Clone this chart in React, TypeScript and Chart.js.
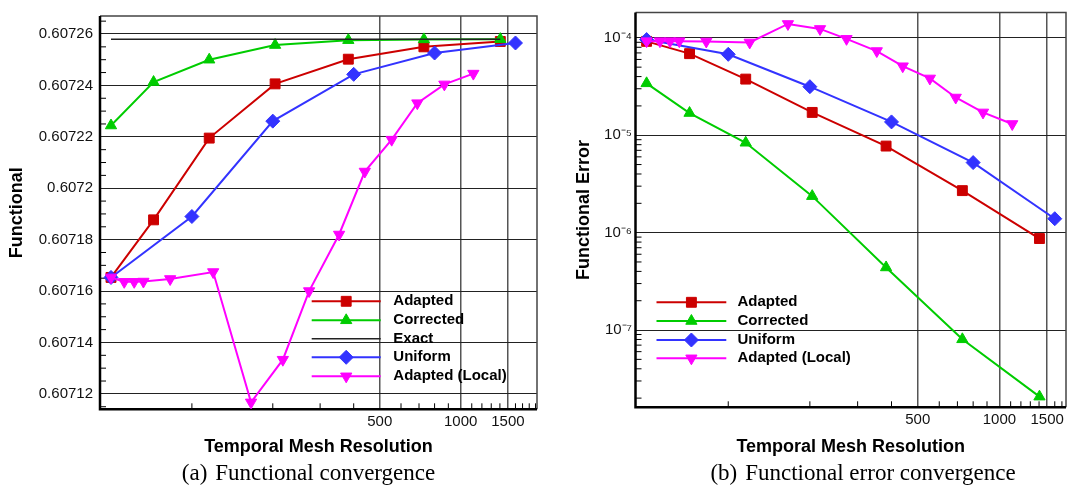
import React, { useEffect, useRef } from 'react';
import { Chart, registerables } from 'chart.js';
import { drawPoint } from 'chart.js/helpers';

Chart.register(...registerables);

// ---------- data ----------
const adaptedN = [50, 72, 116, 204, 382, 730, 1405];
const adaptedF = [0.6071653, 0.6071877, 0.6072195, 0.6072406, 0.6072502, 0.607255, 0.6072571];
const adaptedErr = [9.2e-5, 6.88e-5, 3.77e-5, 1.715e-5, 7.74e-6, 2.7e-6, 8.7e-7];

const correctedN = [50, 72, 116, 204, 382, 730, 1405];
const correctedF = [0.6072244, 0.6072413, 0.60725, 0.6072557, 0.6072576, 0.6072579, 0.607258];
const correctedErr = [3.41e-5, 1.69e-5, 8.37e-6, 2.37e-6, 4.39e-7, 8.03e-8, 2.07e-8];

const exactN = [50, 1405];
const exactF = [0.607258, 0.607258];

const uniformN = [50, 100, 200, 400, 800, 1600];
const uniformF = [0.6071653, 0.607189, 0.6072261, 0.6072443, 0.6072526, 0.6072565];
const uniformErr = [9.6e-5, 6.77e-5, 3.15e-5, 1.37e-5, 5.24e-6, 1.39e-6];

const localN = [50, 56, 61, 66, 83, 120, 166, 218, 273, 353, 440, 554, 690, 870, 1115];
const localF = [
  0.6071653, 0.6071636, 0.6071636, 0.6071637, 0.6071647, 0.6071674, 0.6071167, 0.6071333,
  0.60716, 0.607182, 0.6072065, 0.6072189, 0.6072331, 0.6072404, 0.6072446,
];
const localErr = [
  9.25e-5, 9.25e-5, 9.25e-5, 9.25e-5, 9.18e-5, 8.97e-5, 1.388e-4, 1.234e-4, 9.77e-5, 7.32e-5,
  5.11e-5, 3.83e-5, 2.44e-5, 1.715e-5, 1.305e-5,
];

// ---------- ticks ----------
const xMajorTicks = [500, 1000, 1500];
const xMajorLabels = ['500', '1000', '1500'];
const xMinorTicks = [100, 200, 300, 400, 600, 700, 800, 900, 1100, 1200, 1300, 1400, 1600, 1700, 1800, 1900];

const yMajorTicksA = [0.60712, 0.60714, 0.60716, 0.60718, 0.6072, 0.60722, 0.60724, 0.60726];
const yMajorLabelsA = ['0.60712', '0.60714', '0.60716', '0.60718', '0.6072', '0.60722', '0.60724', '0.60726'];
const yMinorTicksA = [
  0.607115, 0.607125, 0.60713, 0.607135, 0.607145, 0.60715, 0.607155, 0.607165, 0.60717, 0.607175,
  0.607185, 0.60719, 0.607195, 0.607205, 0.60721, 0.607215, 0.607225, 0.60723, 0.607235, 0.607245,
  0.60725, 0.607255, 0.607265,
];

const yMajorTicksB = [1e-7, 1e-6, 1e-5, 1e-4];
const yMajorLabelsB = ['10\u207B\u2077', '10\u207B\u2076', '10\u207B\u2075', '10\u207B\u2074'];
const yMinorDecadesB = [1e-8, 1e-7, 1e-6, 1e-5];
const yMinorMultipliers = [2, 3, 4, 5, 6, 7, 8, 9];
const yMinorTicksB = yMinorDecadesB.flatMap((d) => yMinorMultipliers.map((k) => k * d));

// ---------- style ----------
const SANS = '"Liberation Sans", Arial, Helvetica, sans-serif';
const RED = '#cc0000';
const GREEN = '#00cc00';
const BLUE = '#3333ff';
const MAGENTA = '#ff00ff';

const pts = (xs: number[], ys: number[]) => xs.map((x, i) => ({ x, y: ys[i] }));

const makeSeries = (label: string, data: any[], color: string, style: any, radius: number, order: number, rotation = 0, width = 2) => ({
  label,
  data,
  borderColor: color,
  backgroundColor: color,
  borderWidth: width,
  pointStyle: style,
  pointRadius: radius,
  pointRotation: rotation,
  pointBorderWidth: 1,
  pointBackgroundColor: color,
  pointBorderColor: color,
  tension: 0,
  order,
  clip: false as any,
});

// ---------- plugins ----------
const framePlugin = {
  id: 'frameTicks',
  beforeDatasetsDraw(chart: any, _a: any, opts: any) {
    const { ctx, chartArea: ca, scales } = chart;
    ctx.save();
    ctx.strokeStyle = '#000';
    ctx.lineWidth = 1;
    (opts.x || []).forEach((v: number) => {
      const px = scales.x.getPixelForValue(v);
      if (px < ca.left || px > ca.right) return;
      ctx.beginPath();
      ctx.moveTo(px, ca.bottom);
      ctx.lineTo(px, ca.bottom - 6);
      ctx.stroke();
    });
    (opts.y || []).forEach((v: number) => {
      const py = scales.y.getPixelForValue(v);
      if (py < ca.top || py > ca.bottom) return;
      ctx.beginPath();
      ctx.moveTo(ca.left, py);
      ctx.lineTo(ca.left + 6, py);
      ctx.stroke();
    });
    // frame
    ctx.strokeStyle = '#444';
    ctx.lineWidth = 1.5;
    ctx.beginPath();
    ctx.moveTo(ca.left, ca.top);
    ctx.lineTo(ca.right, ca.top);
    ctx.lineTo(ca.right, ca.bottom);
    ctx.stroke();
    ctx.strokeStyle = '#000';
    ctx.lineWidth = 2.5;
    ctx.beginPath();
    ctx.moveTo(ca.left, ca.top);
    ctx.lineTo(ca.left, ca.bottom);
    ctx.lineTo(ca.right, ca.bottom);
    ctx.stroke();
    ctx.restore();
  },
};

const lineLegendPlugin = {
  id: 'lineLegend',
  afterDatasetsDraw(chart: any, _a: any, opts: any) {
    if (!opts || !opts.ys) return;
    const ctx = chart.ctx;
    ctx.save();
    chart.data.datasets.forEach((ds: any, i: number) => {
      const y = opts.ys[i];
      ctx.strokeStyle = ds.borderColor;
      ctx.lineWidth = ds.borderWidth;
      ctx.beginPath();
      ctx.moveTo(opts.x1, y);
      ctx.lineTo(opts.x2, y);
      ctx.stroke();
      if (ds.pointRadius > 0) {
        ctx.fillStyle = ds.backgroundColor;
        ctx.strokeStyle = ds.borderColor;
        ctx.lineWidth = 1;
        drawPoint(ctx, { pointStyle: ds.pointStyle, rotation: ds.pointRotation || 0, radius: ds.pointRadius, borderWidth: 1 } as any, (opts.x1 + opts.x2) / 2, y);
      }
      ctx.fillStyle = '#000';
      ctx.font = `bold 15px ${SANS}`;
      ctx.textBaseline = 'middle';
      ctx.textAlign = 'left';
      ctx.fillText(ds.label, opts.textX, y);
    });
    ctx.restore();
  },
};

const tickFont = { family: SANS, size: 15 };
const titleFont = { family: SANS, size: 18, weight: 'bold' as const };

function xScale(max: number, height: number) {
  return {
    type: 'logarithmic' as const,
    min: 45.5,
    max,
    afterBuildTicks: (s: any) => {
      s.ticks = xMajorTicks.map((v) => ({ value: v }));
    },
    afterFit: (s: any) => {
      s.height = height;
    },
    ticks: {
      callback: (_v: any, i: number) => xMajorLabels[i],
      font: tickFont,
      color: '#111',
      padding: 4,
      maxRotation: 0,
      autoSkip: false,
    },
    grid: { color: '#555', lineWidth: 1.5, drawTicks: false },
    border: { display: false },
    title: { display: true, text: 'Temporal Mesh Resolution', font: titleFont, color: '#000', padding: { top: 0, bottom: 4 } },
  };
}

function configA(): any {
  return {
    type: 'line',
    data: {
      datasets: [
        makeSeries('Adapted', pts(adaptedN, adaptedF), RED, 'rect', 7, 4),
        makeSeries('Corrected', pts(correctedN, correctedF), GREEN, 'triangle', 6.5, 3),
        makeSeries('Exact', pts(exactN, exactF), '#222', 'circle', 0, 2, 0, 1.5),
        makeSeries('Uniform', pts(uniformN, uniformF), BLUE, 'rectRot', 7, 1),
        makeSeries('Adapted (Local)', pts(localN, localF), MAGENTA, 'triangle', 6.5, 0, 180),
      ],
    },
    options: {
      animation: false,
      responsive: false,
      devicePixelRatio: 1,
      events: [],
      layout: { padding: { top: 11.7, right: 7.8, left: 0, bottom: 0 } },
      scales: {
        x: xScale(1924, 52.7),
        y: {
          type: 'linear',
          min: 0.607114,
          max: 0.607267,
          afterBuildTicks: (s: any) => {
            s.ticks = yMajorTicksA.map((v) => ({ value: v }));
          },
          afterFit: (s: any) => {
            s.width = 100;
          },
          ticks: { callback: (_v: any, i: number) => yMajorLabelsA[i], font: tickFont, color: '#111', padding: 7 },
          grid: { color: '#222', lineWidth: 1, drawTicks: false },
          border: { display: false },
          title: { display: true, text: 'Functional', font: titleFont, color: '#000', padding: { top: 6.2, bottom: 0 } },
        },
      },
      plugins: {
        legend: { display: false },
        tooltip: { enabled: false },
        frameTicks: { x: xMinorTicks, y: yMinorTicksA },
        lineLegend: { x1: 311.7, x2: 380.7, textX: 393.3, ys: [301.3, 320.3, 338.7, 357.3, 376.3] },
      },
    },
    plugins: [framePlugin, lineLegendPlugin],
  };
}

function configB(): any {
  return {
    type: 'line',
    data: {
      datasets: [
        makeSeries('Adapted', pts(adaptedN, adaptedErr), RED, 'rect', 7, 3),
        makeSeries('Corrected', pts(correctedN, correctedErr), GREEN, 'triangle', 6.5, 2),
        makeSeries('Uniform', pts(uniformN, uniformErr), BLUE, 'rectRot', 7, 1),
        makeSeries('Adapted (Local)', pts(localN, localErr), MAGENTA, 'triangle', 6.5, 0, 180),
      ],
    },
    options: {
      animation: false,
      responsive: false,
      devicePixelRatio: 1,
      events: [],
      layout: { padding: { top: 8.3, right: 1, left: 0, bottom: 0 } },
      scales: {
        x: xScale(1760, 54.7),
        y: {
          type: 'logarithmic',
          min: 1.61e-8,
          max: 1.82e-4,
          afterBuildTicks: (s: any) => {
            s.ticks = yMajorTicksB.map((v) => ({ value: v }));
          },
          afterFit: (s: any) => {
            s.width = 90.5;
          },
          ticks: { callback: (_v: any, i: number) => yMajorLabelsB[i], font: tickFont, color: '#111', padding: 3.5 },
          grid: { color: '#222', lineWidth: 1, drawTicks: false },
          border: { display: false },
          title: { display: true, text: 'Functional Error', font: titleFont, color: '#000', padding: { top: 28.2, bottom: 0 } },
        },
      },
      plugins: {
        legend: { display: false },
        tooltip: { enabled: false },
        frameTicks: { x: xMinorTicks, y: yMinorTicksB },
        lineLegend: { x1: 111.5, x2: 181.3, textX: 192.5, ys: [302.3, 321, 340, 358.3] },
      },
    },
    plugins: [framePlugin, lineLegendPlugin],
  };
}

function Panel({ left, width, height, make }: { left: number; width: number; height: number; make: () => any }) {
  const ref = useRef<HTMLCanvasElement | null>(null);
  useEffect(() => {
    if (!ref.current) return;
    const chart = new Chart(ref.current, make());
    return () => chart.destroy();
  }, []);
  return (
    <canvas
      ref={ref}
      width={width}
      height={height}
      style={{ position: 'absolute', left, top: 0, width, height }}
    />
  );
}

const captionStyle = (cx: number): React.CSSProperties => ({
  position: 'absolute',
  left: cx - 250,
  width: 500,
  top: 461,
  textAlign: 'center',
  fontFamily: '"Liberation Serif", "Times New Roman", serif',
  fontSize: 23,
  lineHeight: '23px',
  whiteSpace: 'nowrap',
  color: '#000',
});

export default function App() {
  return (
    <div style={{ position: 'absolute', left: 0, top: 0, width: 1074, height: 486, background: '#fff', overflow: 'hidden' }}>
      <Panel left={0} width={545} height={462} make={configA} />
      <Panel left={545} width={529} height={462} make={configB} />
      <div style={captionStyle(308.5)}>
        (a)<span style={{ marginLeft: 8 }}>Functional convergence</span>
      </div>
      <div style={captionStyle(863)}>
        (b)<span style={{ marginLeft: 8 }}>Functional error convergence</span>
      </div>
    </div>
  );
}
